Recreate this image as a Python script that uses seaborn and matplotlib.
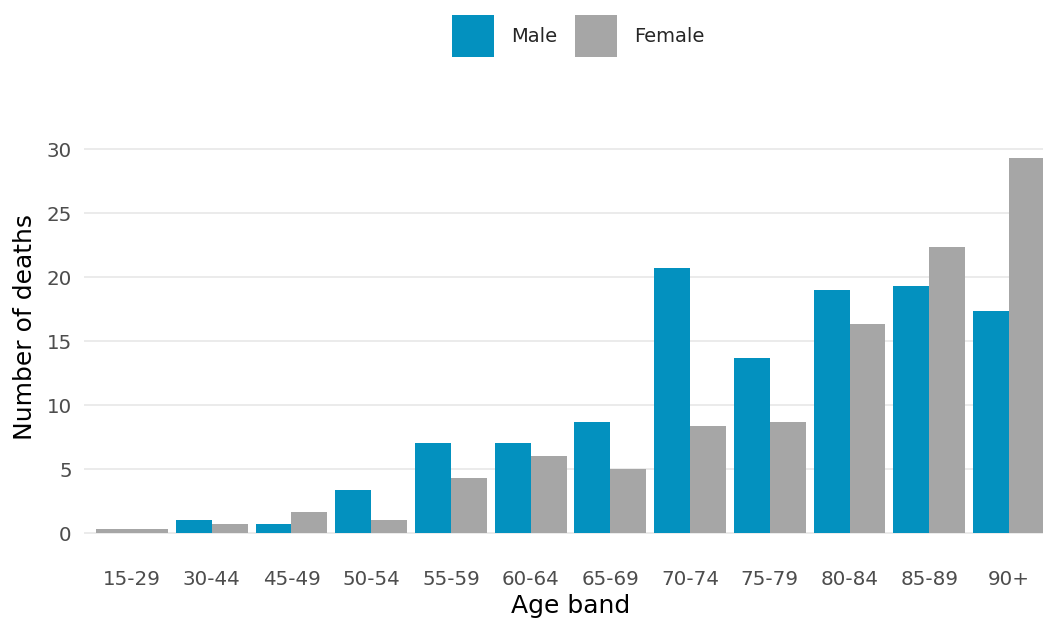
import numpy as np
import pandas as pd
import matplotlib
matplotlib.use("Agg")
import matplotlib.pyplot as plt
import seaborn as sns
from matplotlib.patches import Patch

categories = ["15-29", "30-44", "45-49", "50-54", "55-59", "60-64", "65-69",
              "70-74", "75-79", "80-84", "85-89", "90+"]
male = [np.nan, 1.0, 0.67, 3.33, 7.0, 7.0, 8.67, 20.67, 13.67, 19.0, 19.33, 17.33]
female = [0.33, 0.67, 1.67, 1.0, 4.33, 6.0, 5.0, 8.33, 8.67, 16.33, 22.33, 29.33]
yticks = [0, 5, 10, 15, 20, 25, 30]

male_color = "#0391BF"
female_color = "#A6A6A6"

sns.set_theme(style="white")
plt.rcParams["font.family"] = ["DejaVu Sans"]

# Categories where only one sex has a value get a full-width bar (like ggplot dodge)
single = [c for c, m, f in zip(categories, male, female) if np.isnan(m) or np.isnan(f)]
rows = []
for c, m, f in zip(categories, male, female):
    if c in single:
        rows.append((c, "Male", np.nan))
        rows.append((c, "Female", np.nan))
    else:
        rows.append((c, "Male", m))
        rows.append((c, "Female", f))
df = pd.DataFrame(rows, columns=["Age band", "Sex", "Deaths"])

single_vals = []
for c, m, f in zip(categories, male, female):
    if c in single:
        single_vals.append(f if np.isnan(m) else m)
    else:
        single_vals.append(np.nan)
df_single = pd.DataFrame({"Age band": categories, "Deaths": single_vals})

fig = plt.figure(figsize=(10.43, 6.21), dpi=100)
W, H = 1043, 621
left_px, right_px = 84.2, 1056.8
top_px, bottom_px = 138.8, 551.8
ax = fig.add_axes([left_px / W, 1 - bottom_px / H,
                   (right_px - left_px) / W, (bottom_px - top_px) / H])

sns.barplot(data=df, x="Age band", y="Deaths", hue="Sex", order=categories,
            hue_order=["Male", "Female"],
            palette={"Male": male_color, "Female": female_color},
            width=0.9, gap=0, saturation=1, edgecolor="none", linewidth=0,
            errorbar=None, legend=False, ax=ax, zorder=2)
sns.barplot(data=df_single, x="Age band", y="Deaths", order=categories,
            color=female_color, width=0.9, saturation=1, edgecolor="none",
            linewidth=0, errorbar=None, ax=ax, zorder=2)

ax.set_xlim(-0.6, len(categories) - 1 + 0.6)
ax.set_ylim(-1.4665, 30.8)
ax.set_yticks(yticks)
ax.set_yticklabels([str(v) for v in yticks])
ax.grid(axis="y", color="#EBEBEB", linewidth=1.4, zorder=0)
ax.grid(axis="x", visible=False)
for s in ax.spines.values():
    s.set_visible(False)
ax.tick_params(axis="both", length=0, labelsize=14.3, labelcolor="#4D4D4D")
ax.tick_params(axis="y", pad=9)
ax.tick_params(axis="x", pad=13)
ax.set_xlabel("Age band", fontsize=18, color="black", labelpad=4)
ax.set_ylabel("Number of deaths", fontsize=18, color="black", labelpad=6)
ax.yaxis.set_label_coords((37 - left_px) / (right_px - left_px),
                          (bottom_px - 327) / (bottom_px - top_px))

handles = [Patch(facecolor=male_color, edgecolor="none", label="Male"),
           Patch(facecolor=female_color, edgecolor="none", label="Female")]
fig.legend(handles=handles, loc="center", bbox_to_anchor=(578.5 / W, 1 - 36 / H),
           ncol=2, frameon=False, fontsize=14, handlelength=2.15, handleheight=2.95,
           handletextpad=0.9, columnspacing=0.9, borderaxespad=0, borderpad=0)

fig.savefig("out.png", dpi=100)
